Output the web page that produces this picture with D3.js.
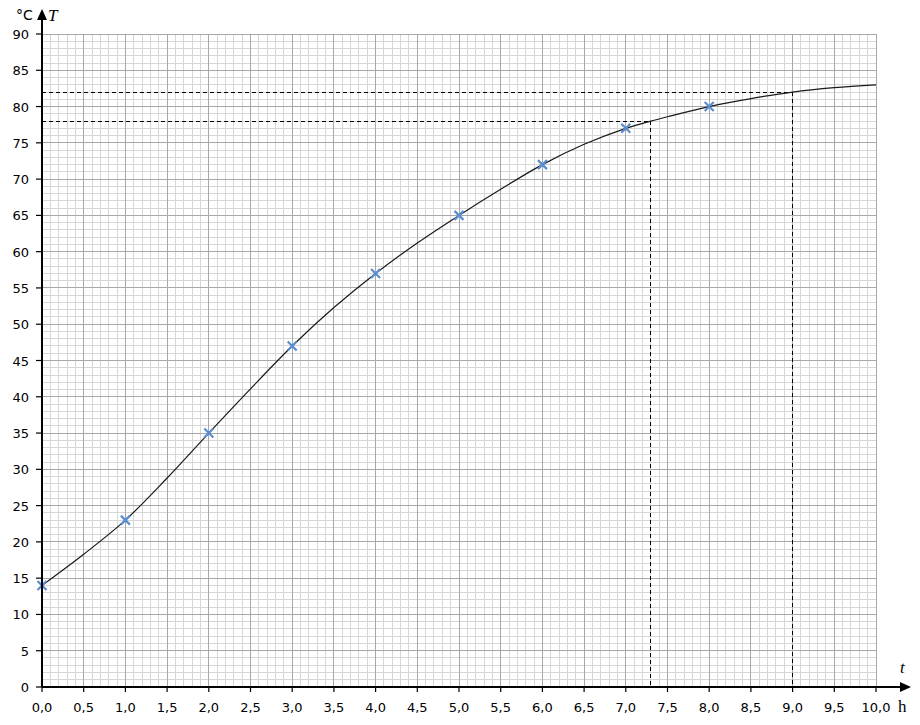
<!DOCTYPE html>
<html><head><meta charset="utf-8">
<script src="https://cdn.jsdelivr.net/npm/d3@7"></script>
<style>body{margin:0;background:#fff;} svg{display:block;}</style>
</head><body>
<svg id="c" width="920" height="725"></svg>
<script>
// Measured points (t in h, T in °C)
const times = [0, 1, 2, 3, 4, 5, 6, 7, 8];
const temps = [14, 23, 35, 47, 57, 65, 72, 77, 80];
// Smooth curve
const curveT = [0, 0.5, 1, 1.5, 2, 2.5, 3, 3.5, 4, 4.5, 5, 5.5, 6, 6.5, 7, 7.3, 7.5, 8, 8.5, 9, 9.5, 10];
const curveV = [14, 18.3, 23, 28.8, 35, 41.1, 47, 52.3, 57, 61.2, 65, 68.6, 72, 74.8, 77, 78, 78.6, 80, 81.1, 82, 82.6, 83];
// Dashed reading lines
const readT = [7.3, 9.0];
const readV = [78, 82];
const xTicks = [0,0.5,1,1.5,2,2.5,3,3.5,4,4.5,5,5.5,6,6.5,7,7.5,8,8.5,9,9.5,10];
const yTicks = [0,5,10,15,20,25,30,35,40,45,50,55,60,65,70,75,80,85,90];

const svg = d3.select("#c");
const x = d3.scaleLinear().domain([0, 10]).range([42, 876]);
const y = d3.scaleLinear().domain([0, 90]).range([687, 34]);
const fmt = v => v.toFixed(1).replace(".", ",");

// minor grid
const g = svg.append("g").attr("shape-rendering", "crispEdges");
const minorX = d3.range(0, 101).map(i => i / 10).filter((v, i) => i % 5 !== 0);
const minorY = d3.range(0, 91).filter(v => v % 5 !== 0);
g.selectAll(".mx").data(minorX).join("line")
  .attr("x1", d => x(d)).attr("x2", d => x(d)).attr("y1", y(0)).attr("y2", y(90))
  .attr("stroke", "#d6d6d6").attr("stroke-width", 1);
g.selectAll(".my").data(minorY).join("line")
  .attr("y1", d => y(d)).attr("y2", d => y(d)).attr("x1", x(0)).attr("x2", x(10))
  .attr("stroke", "#d6d6d6").attr("stroke-width", 1);
// major grid
g.selectAll(".Mx").data(xTicks).join("line")
  .attr("x1", d => x(d)).attr("x2", d => x(d)).attr("y1", y(0)).attr("y2", y(90))
  .attr("stroke", "#a8a8a8").attr("stroke-width", 1);
g.selectAll(".My").data(yTicks).join("line")
  .attr("y1", d => y(d)).attr("y2", d => y(d)).attr("x1", x(0)).attr("x2", x(10))
  .attr("stroke", "#a8a8a8").attr("stroke-width", 1);

// dashed reading lines
const dash = svg.append("g").attr("stroke", "#000").attr("stroke-width", 1)
  .attr("stroke-dasharray", "4,3").attr("shape-rendering", "crispEdges");
readT.forEach((t, i) => {
  dash.append("line").attr("x1", x(0)).attr("x2", x(t)).attr("y1", y(readV[i])).attr("y2", y(readV[i]));
  dash.append("line").attr("x1", x(t)).attr("x2", x(t)).attr("y1", y(readV[i])).attr("y2", y(0));
});

// curve
const pts = curveT.map((t, i) => [t, curveV[i]]);
svg.append("path").datum(pts)
  .attr("d", d3.line().x(d => x(d[0])).y(d => y(d[1])).curve(d3.curveCatmullRom.alpha(0.5)))
  .attr("fill", "none").attr("stroke", "#1a1a1a").attr("stroke-width", 1.2);

// markers
const mk = svg.append("g").attr("stroke", "#5a8dd0").attr("stroke-width", 2.2);
times.forEach((t, i) => {
  const cx = x(t), cy = y(temps[i]), s = 4.5;
  mk.append("path").attr("d", `M${cx - s},${cy - s}L${cx + s},${cy + s}M${cx - s},${cy + s}L${cx + s},${cy - s}`);
});

// axes
const ax = svg.append("g");
ax.append("line").attr("x1", x(0)).attr("x2", 903).attr("y1", y(0)).attr("y2", y(0))
  .attr("stroke", "#000").attr("stroke-width", 2);
ax.append("path").attr("d", `M${911},${y(0)}L${900},${y(0) - 5}L${900},${y(0) + 5}Z`).attr("fill", "#000");
ax.append("line").attr("x1", x(0)).attr("x2", x(0)).attr("y1", y(0)).attr("y2", 16)
  .attr("stroke", "#000").attr("stroke-width", 2);
ax.append("path").attr("d", `M${x(0)},${9}L${x(0) - 5},${20}L${x(0) + 5},${20}Z`).attr("fill", "#000");

// x ticks
ax.selectAll(".xt").data(xTicks).join("line")
  .attr("x1", d => x(d)).attr("x2", d => x(d)).attr("y1", y(0)).attr("y2", y(0) + 5)
  .attr("stroke", "#000").attr("stroke-width", 1.2);
ax.selectAll(".xl").data(xTicks).join("text")
  .attr("x", d => x(d)).attr("y", 712).attr("text-anchor", "middle")
  .attr("font-family", "DejaVu Sans, Verdana, sans-serif").attr("font-size", 13)
  .attr("fill", "#000").text(d => fmt(d));
// y ticks
ax.selectAll(".yt").data(yTicks).join("line")
  .attr("y1", d => y(d)).attr("y2", d => y(d)).attr("x1", x(0) - 6).attr("x2", x(0))
  .attr("stroke", "#000").attr("stroke-width", 1.2);
ax.selectAll(".yl").data(yTicks).join("text")
  .attr("x", 29).attr("y", d => y(d) + 5).attr("text-anchor", "end")
  .attr("font-family", "DejaVu Sans, Verdana, sans-serif").attr("font-size", 13)
  .attr("fill", "#000").text(d => d);

// axis labels
svg.append("text").attr("x", 16).attr("y", 20).attr("font-family", "DejaVu Sans, Verdana, sans-serif")
  .attr("font-size", 14).text("°C");
svg.append("text").attr("x", 48).attr("y", 21).attr("font-family", "Liberation Serif, serif")
  .attr("font-style", "italic").attr("font-size", 17).text("T");
svg.append("text").attr("x", 900).attr("y", 673).attr("font-family", "Liberation Serif, serif")
  .attr("font-style", "italic").attr("font-size", 17).text("t");
svg.append("text").attr("x", 898).attr("y", 712).attr("font-family", "Liberation Serif, serif")
  .attr("font-size", 17).text("h");
</script>
</body></html>
